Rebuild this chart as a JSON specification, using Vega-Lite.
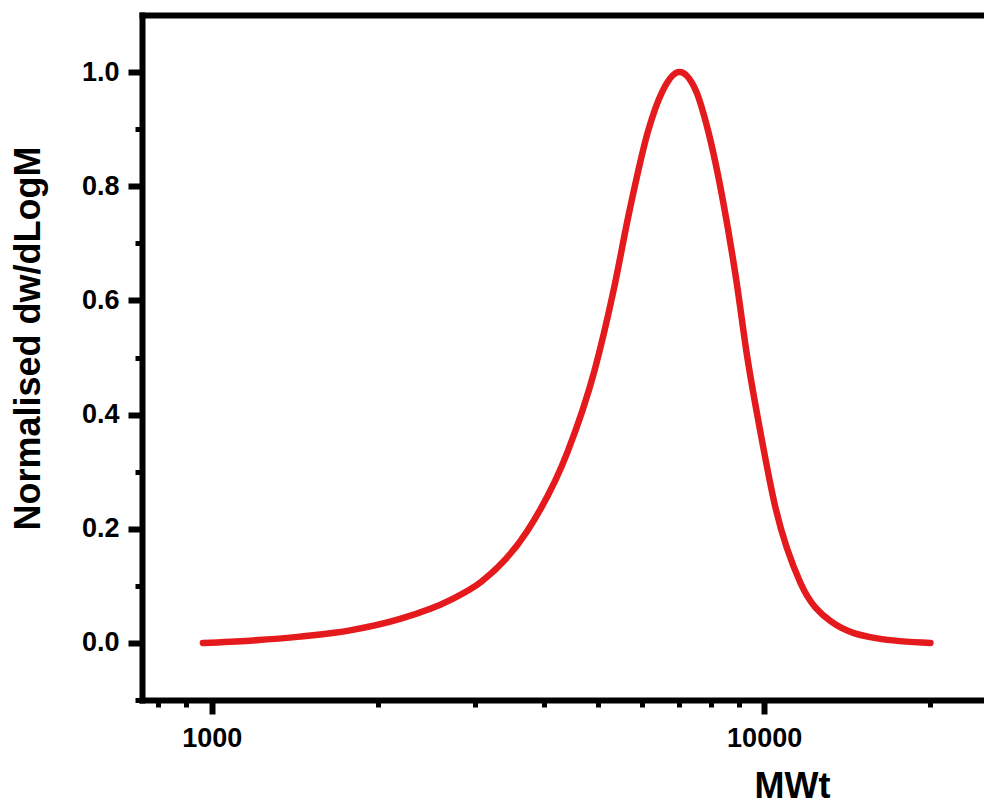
{
  "$schema": "https://vega.github.io/schema/vega-lite/v6.json",
  "autosize": "none",
  "padding": {"left": 142, "top": 15, "right": 0, "bottom": 106},
  "width": 842,
  "height": 685,
  "background": "white",
  "config": {
    "view": {"stroke": null},
    "axis": {
      "grid": false,
      "domainColor": "black",
      "tickColor": "black",
      "labelColor": "black",
      "titleColor": "black",
      "labelFont": "Liberation Sans",
      "titleFont": "Liberation Sans",
      "labelFontWeight": "bold",
      "titleFontWeight": "bold",
      "labelFontSize": 27,
      "titleFontSize": 36,
      "domainWidth": 6,
      "domainCap": "square",
      "tickCap": "butt"
    }
  },
  "data": {
    "values": [
      {"MWt": 964, "value": 0.0},
      {"MWt": 1173, "value": 0.004},
      {"MWt": 1445, "value": 0.011},
      {"MWt": 1780, "value": 0.022},
      {"MWt": 2193, "value": 0.042},
      {"MWt": 2702, "value": 0.075},
      {"MWt": 3084, "value": 0.108},
      {"MWt": 3721, "value": 0.195},
      {"MWt": 4409, "value": 0.335},
      {"MWt": 4934, "value": 0.478},
      {"MWt": 5340, "value": 0.618},
      {"MWt": 5708, "value": 0.758},
      {"MWt": 6179, "value": 0.9},
      {"MWt": 6535, "value": 0.965},
      {"MWt": 7025, "value": 1.0},
      {"MWt": 7541, "value": 0.965},
      {"MWt": 7903, "value": 0.9},
      {"MWt": 8451, "value": 0.767},
      {"MWt": 8909, "value": 0.634},
      {"MWt": 9316, "value": 0.502},
      {"MWt": 9847, "value": 0.369},
      {"MWt": 10483, "value": 0.237},
      {"MWt": 11636, "value": 0.105},
      {"MWt": 13190, "value": 0.038},
      {"MWt": 16021, "value": 0.008},
      {"MWt": 20000, "value": 0.0}
    ]
  },
  "resolve": {"axis": {"x": "independent", "y": "independent"}},
  "layer": [
    {
      "mark": {"type": "line", "strokeOpacity": 0},
      "encoding": {
        "x": {"field": "MWt", "type": "quantitative",
          "scale": {"type": "log", "domain": [748, 25000], "nice": false},
          "axis": {"orient": "top", "values": [], "ticks": false, "labels": false, "title": null, "domain": true}},
        "y": {"field": "value", "type": "quantitative",
          "scale": {"domain": [-0.1, 1.1], "nice": false, "zero": false},
          "axis": {"orient": "left", "values": [-0.1, 0.1, 0.3, 0.5, 0.7, 0.9], "labels": false, "title": null, "domain": false, "tickSize": 7, "tickWidth": 5}}
      }
    },
    {
      "mark": {"type": "line", "strokeOpacity": 0},
      "encoding": {
        "x": {"field": "MWt", "type": "quantitative",
          "scale": {"type": "log", "domain": [748, 25000], "nice": false},
          "axis": {"orient": "bottom", "values": [800, 900, 2000, 3000, 4000, 5000, 6000, 7000, 8000, 9000, 20000], "labels": false, "title": null, "domain": false, "tickSize": 7, "tickWidth": 5}},
        "y": {"field": "value", "type": "quantitative", "axis": null}
      }
    },
    {
      "mark": {"type": "line", "color": "#e41a1c", "strokeWidth": 6.5, "strokeCap": "round", "strokeJoin": "round", "interpolate": "monotone"},
      "encoding": {
        "x": {"field": "MWt", "type": "quantitative",
          "scale": {"type": "log", "domain": [748, 25000], "nice": false},
          "axis": {"orient": "bottom", "values": [1000, 10000], "format": "d", "title": "MWt", "tickSize": 14, "tickWidth": 6, "labelPadding": 11, "titleX": 650, "titleY": 97, "titleBaseline": "alphabetic", "titleAlign": "center", "titleAnchor": null}},
        "y": {"field": "value", "type": "quantitative",
          "scale": {"domain": [-0.1, 1.1], "nice": false, "zero": false},
          "axis": {"orient": "left", "values": [0, 0.2, 0.4, 0.6, 0.8, 1.0], "format": ".1f", "title": "Normalised dw/dLogM", "tickSize": 14, "tickWidth": 6, "labelPadding": 9, "titleX": -114, "titleY": 323, "titleAngle": -90, "titleBaseline": "middle", "titleAlign": "center"}}
      }
    }
  ]
}
